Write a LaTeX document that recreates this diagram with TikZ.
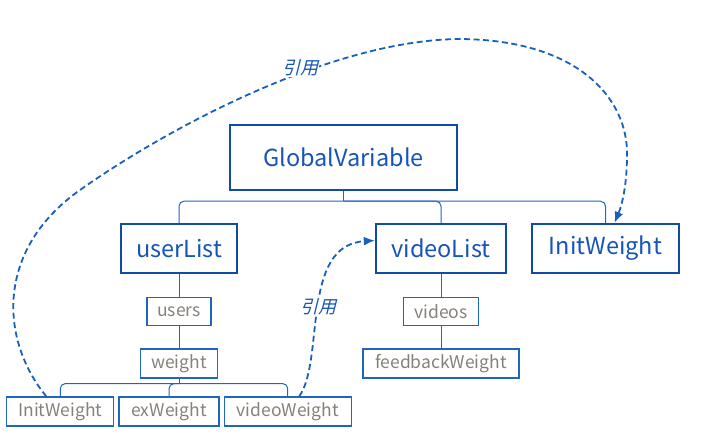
\documentclass[tikz,border=0pt]{standalone}
\usepackage{fontspec}
\setmainfont{Noto Sans CJK SC}
\newfontfamily\slantcjk[FakeSlant=0.25]{Noto Sans CJK SC}
\usepackage{tikz}
\usetikzlibrary{arrows.meta, positioning, calc}

\definecolor{boxblue}{RGB}{18,74,168}
\definecolor{textblue}{RGB}{22,84,182}
\definecolor{thinblue}{RGB}{32,102,192}
\definecolor{linkblue}{RGB}{24,96,190}
\definecolor{leafgray}{RGB}{134,128,122}

\begin{document}
\begin{tikzpicture}[x=1pt, y=-1pt,
    bigbox/.style={draw=boxblue, line width=2.4pt, text=textblue, minimum height=49pt,
                   inner sep=0pt, font=\fontsize{23.5}{26}\selectfont},
    leaf/.style={draw=thinblue, line width=1.2pt, text=leafgray, minimum height=29pt,
                 inner sep=0pt, font=\fontsize{17.5}{20}\selectfont},
    conn/.style={draw=thinblue, line width=1pt, rounded corners=5pt},
    refarrow/.style={draw=linkblue, line width=1.8pt, dash pattern=on 6pt off 3.5pt,
                     -{Latex[length=11pt,width=9pt]}},
    reflabel/.style={fill=white, text=textblue, inner sep=1pt, font=\slantcjk\fontsize{18}{20}\selectfont}]

  \useasboundingbox (0,0) rectangle (707,434);

  % top level
  \node[bigbox, minimum width=227pt, minimum height=65pt] (gv) at (343.5,157.5) {GlobalVariable};

  \node[bigbox, minimum width=116pt] (ul) at (179,248.5) {userList};
  \node[bigbox, minimum width=130pt] (vl) at (441,248.5) {videoList};
  \node[bigbox, minimum width=147pt] (iw) at (605.5,248.5) {InitWeight};

  % user side
  \node[leaf, minimum width=64pt, minimum height=28pt] (users) [below=23pt of ul] {users};
  \node[leaf, minimum width=77pt] (weight) [below=22pt of users] {weight};
  \node[leaf, minimum width=100pt] (exw) at (169,411.5) {exWeight};
  \node[leaf, minimum width=107pt] (iws) [left=4pt of exw] {InitWeight};
  \node[leaf, minimum width=127pt] (vw) [right=4pt of exw] {videoWeight};

  % video side
  \node[leaf, minimum width=75pt, minimum height=28pt] (videos) [below=23pt of vl] {videos};
  \node[leaf, minimum width=156pt] (fbw) [below=22pt of videos] {feedbackWeight};

  % tree lines
  \coordinate (gvj) at ($(gv.south)+(0,10)$);
  \coordinate (wj) at ($(weight.south)+(0,5)$);
  \draw[conn] (gv.south) -- (gvj);
  \draw[conn] (gvj) -| (ul.north);
  \draw[conn] (gvj) -| (vl.north);
  \draw[conn] (gvj) -| (iw.north);
  \draw[conn] (ul.south) -- (users.north);
  \draw[conn] (users.south) -- (weight.north);
  \draw[conn] (weight.south) -- (wj);
  \draw[conn] (wj) -| (iws.north);
  \draw[conn] (wj) -| (exw.north);
  \draw[conn] (wj) -| (vw.north);
  \draw[conn] (vl.south) -- (videos.north);
  \draw[conn] (videos.south) -- (fbw.north);

  % references
  \draw[refarrow] ([xshift=-14pt]iws.north) .. controls (0,340) and (-5,250) .. (80,190)
        .. controls (165,130) and (330,40) .. (460,39)
        .. controls (580,40) and (628,100) .. (627,155)
        .. controls (627,185) and (622,205) .. ([xshift=9pt]iw.north);
  \node[reflabel] (ref1) at (300,68) {引用};

  \draw[refarrow] ([xshift=11.5pt]vw.north) .. controls (325,360) and (300,245) .. ([yshift=8pt]vl.west)
        node[reflabel, pos=0.5] (ref2) {引用};

\end{tikzpicture}
\end{document}
